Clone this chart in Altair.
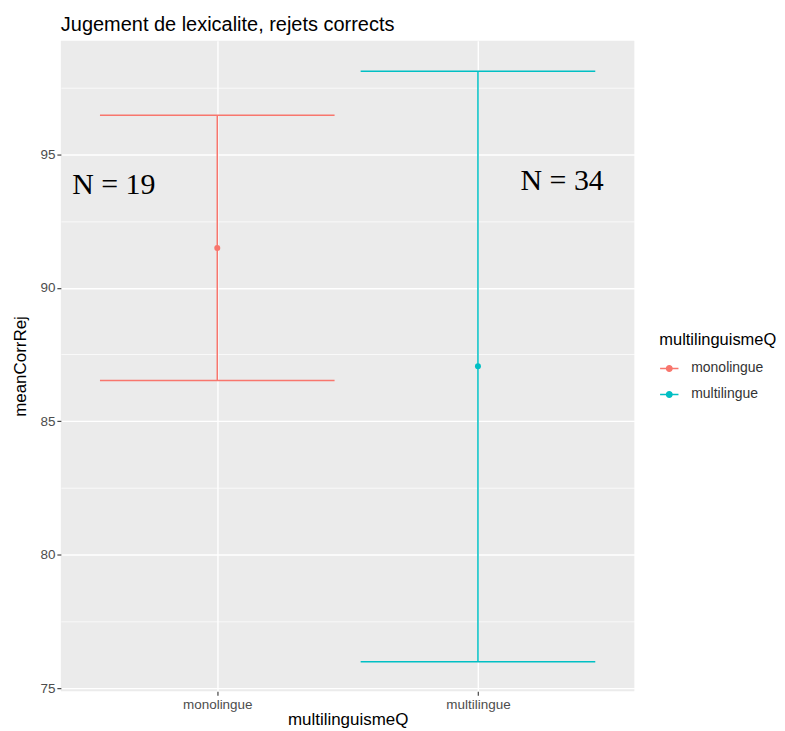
import altair as alt
import pandas as pd

categories = ["monolingue", "multilingue"]
xpos = [1, 2]
means = [91.49, 87.06]
lowers = [86.53, 75.99]
uppers = [96.46, 98.11]
half_width = 0.45

ann_x = [0.603, 2.323]
ann_y = [93.85, 94.0]
ann_text = ["N = 19", "N = 34"]

colors = ["#F8766D", "#00BFC4"]

df = pd.DataFrame({
    "multilinguismeQ": categories,
    "x": xpos,
    "xl": [v - half_width for v in xpos],
    "xr": [v + half_width for v in xpos],
    "mean": means,
    "lo": lowers,
    "hi": uppers,
})
ann = pd.DataFrame({"x": ann_x, "y": ann_y, "t": ann_text})

xscale = alt.Scale(domain=[0.4, 2.6], nice=False, zero=False)
yscale = alt.Scale(domain=[74.89, 99.25], nice=False, zero=False)

label_expr = " : ".join(
    [f"datum.value == {v} ? '{c}'" for v, c in zip(xpos, categories)]
) + " : ''"

xaxis = alt.Axis(
    title="multilinguismeQ", values=xpos, labelExpr=label_expr,
    grid=True, gridColor="white", gridWidth=1.4,
    tickColor="#333333", tickSize=4, tickWidth=1.1,
    labelColor="#4D4D4D", labelFontSize=13.5, labelPadding=2,
    titleFontSize=17, titleFontWeight="normal", titleColor="black", titlePadding=1,
    domain=False, labelFont="Liberation Sans", titleFont="Liberation Sans",
)
yaxis = alt.Axis(
    title="meanCorrRej", values=[75, 77.5, 80, 82.5, 85, 87.5, 90, 92.5, 95, 97.5],
    labelExpr="datum.value % 5 === 0 ? datum.label : ''",
    grid=True, gridColor="white",
    gridWidth={"condition": {"test": "datum.value % 5 === 0", "value": 1.4}, "value": 0.7},
    tickOpacity={"condition": {"test": "datum.value % 5 === 0", "value": 1}, "value": 0},
    tickColor="#333333", tickSize=4, tickWidth=1.1,
    labelColor="#4D4D4D", labelFontSize=13.5, labelPadding=2,
    titleFontSize=17, titleFontWeight="normal", titleColor="black", titlePadding=10,
    domain=False, labelFont="Liberation Sans", titleFont="Liberation Sans",
)

legend_symbol = "M-1,0L1,0M-0.3,0A0.3,0.3,0,1,1,0.3,0A0.3,0.3,0,1,1,-0.3,0Z"
color = alt.Color(
    "multilinguismeQ:N",
    scale=alt.Scale(domain=categories, range=colors),
    legend=alt.Legend(
        title="multilinguismeQ", titleFontSize=16.5, titleFontWeight="normal",
        titleColor="black", labelFontSize=14, labelColor="#333333",
        symbolType=legend_symbol, symbolSize=340, symbolStrokeWidth=1.5,
        titleFont="Liberation Sans", labelFont="Liberation Sans",
        rowPadding=9, titlePadding=10, labelOffset=12,
        orient="none", legendX=600, legendY=292,
    ),
)

base = alt.Chart(df)

vrule = base.mark_rule(strokeWidth=1.5).encode(
    x=alt.X("x:Q", scale=xscale, axis=xaxis),
    y=alt.Y("lo:Q", scale=yscale, axis=yaxis),
    y2="hi:Q",
    color=color,
)
cap_hi = base.mark_rule(strokeWidth=1.5).encode(
    x="xl:Q", x2="xr:Q", y="hi:Q", color=color,
)
cap_lo = base.mark_rule(strokeWidth=1.5).encode(
    x="xl:Q", x2="xr:Q", y="lo:Q", color=color,
)
pts = base.mark_circle(size=36, opacity=1).encode(
    x="x:Q", y="mean:Q", color=color,
)
txt = alt.Chart(ann).mark_text(
    font="Liberation Serif", fontSize=30, color="black", baseline="middle", align="center"
).encode(x="x:Q", y="y:Q", text="t:N")

chart = alt.layer(vrule, cap_hi, cap_lo, pts, txt).properties(
    width=575, height=652,
    padding={"left": 3, "top": 6, "right": 0, "bottom": 0},
    title=alt.TitleParams(
        "Jugement de lexicalite, rejets corrects", anchor="start", frame="group",
        fontSize=20, fontWeight="normal", font="Liberation Sans", color="black", offset=6,
    ),
).configure_view(fill="#EBEBEB", stroke=None)

chart.save("out.html", embed_options={"renderer": "svg", "actions": False})
